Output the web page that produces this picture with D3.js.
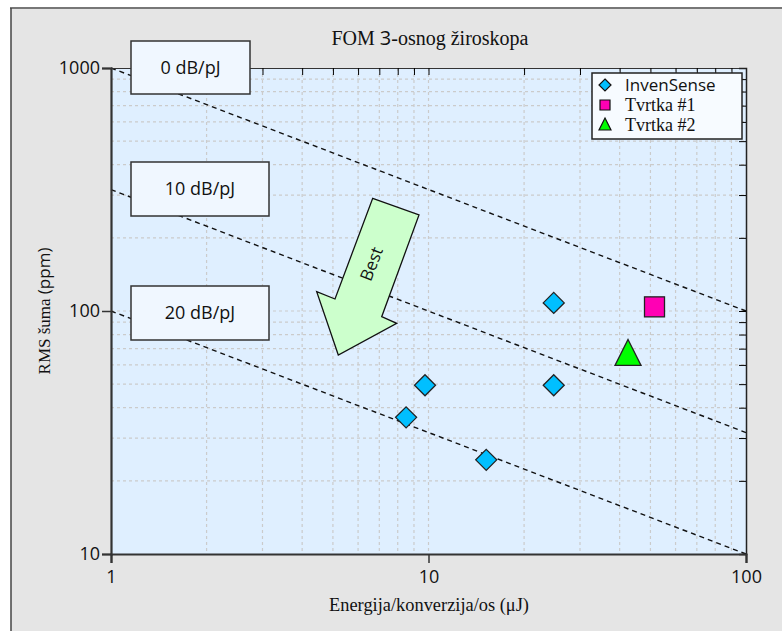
<!DOCTYPE html>
<html>
<head>
<meta charset="utf-8">
<script src="https://cdn.jsdelivr.net/npm/d3@7"></script>
<style>
  body { margin: 0; background: #fff; }
  svg { display: block; }
</style>
</head>
<body>
<svg id="chart"></svg>
<script>
// data
const invenSense = [
  { e: 8.5, n: 36.5 },
  { e: 9.75, n: 49.5 },
  { e: 15.2, n: 24.4 },
  { e: 24.8, n: 108 },
  { e: 24.8, n: 49.5 }
];
const tvrtka1 = [{ e: 51.5, n: 104 }];
const tvrtka2 = [{ e: 42.5, n: 65 }];
const fomLines = [
  { label: '0 dB/pJ', y1: 1000, y100: 100 },
  { label: '10 dB/pJ', y1: 316, y100: 31.6 },
  { label: '20 dB/pJ', y1: 100, y100: 10 }
];
const xTicks = [1, 10, 100];
const yTicks = [10, 100, 1000];
const xMinor = [2, 3, 4, 5, 6, 7, 8, 9, 20, 30, 40, 50, 60, 70, 80, 90];
const yMinor = [20, 30, 40, 50, 60, 70, 80, 90, 200, 300, 400, 500, 600, 700, 800, 900];

const width = 782;
const height = 631;
const m = { left: 111, right: 746, top: 68, bottom: 554 };

const serif = '"Liberation Serif", "DejaVu Serif", serif';
const sans = '"Open Sans", "Noto Sans", sans-serif';

const svg = d3.select('#chart').attr('width', width).attr('height', height);

// frame
svg.append('rect').attr('x', 11).attr('y', 8).attr('width', width - 11).attr('height', height - 8)
  .attr('fill', '#e5e5e5');
svg.append('line').attr('x1', 10).attr('x2', width).attr('y1', 8).attr('y2', 8)
  .attr('stroke', '#777').attr('stroke-width', 2);
svg.append('line').attr('x1', 11).attr('x2', 11).attr('y1', 8).attr('y2', height)
  .attr('stroke', '#444').attr('stroke-width', 1.5);

const x = d3.scaleLog().domain([1, 100]).range([m.left, m.right]);
const y = d3.scaleLog().domain([10, 1000]).range([m.bottom, m.top]);

svg.append('rect').attr('x', m.left).attr('y', m.top)
  .attr('width', m.right - m.left).attr('height', m.bottom - m.top)
  .attr('fill', '#dfefff');

// grid
const grid = svg.append('g').attr('stroke', '#cbcbcb').attr('stroke-width', 1.2)
  .attr('stroke-dasharray', '3,3');
grid.selectAll('.gx').data(xMinor.concat([10])).join('line')
  .attr('x1', d => x(d)).attr('x2', d => x(d)).attr('y1', m.top).attr('y2', m.bottom);
grid.selectAll('.gy').data(yMinor.concat([100])).join('line')
  .attr('y1', d => y(d)).attr('y2', d => y(d)).attr('x1', m.left).attr('x2', m.right);

// dashed FOM lines
const lineFn = d3.line().x(d => x(d[0])).y(d => y(d[1]));
svg.selectAll('.fom').data(fomLines).join('path')
  .attr('d', d => lineFn([[1, d.y1], [100, d.y100]]))
  .attr('fill', 'none').attr('stroke', '#111').attr('stroke-width', 1.4)
  .attr('stroke-dasharray', '5,4');

// top / right inward ticks
const allX = xMinor.concat(xTicks).filter(d => d > 1 && d < 100);
const allY = yMinor.concat(yTicks).filter(d => d > 10 && d < 1000);
svg.append('g').attr('transform', `translate(0,${m.top})`)
  .call(d3.axisTop(x).tickValues(allX).tickSize(-7).tickFormat(''))
  .call(g => g.select('.domain').attr('stroke', '#333'));
svg.append('g').attr('transform', `translate(${m.right},0)`)
  .call(d3.axisRight(y).tickValues(allY).tickSize(-7).tickFormat(''))
  .call(g => g.select('.domain').attr('stroke', '#222').attr('stroke-width', 1.5));

// bottom / left axes
const xAxis = svg.append('g').attr('transform', `translate(0,${m.bottom})`)
  .call(d3.axisBottom(x).tickValues(xTicks).tickSize(9).tickPadding(7).tickFormat(d3.format('d')));
const yAxis = svg.append('g').attr('transform', `translate(${m.left},0)`)
  .call(d3.axisLeft(y).tickValues(yTicks).tickSize(9).tickPadding(2).tickFormat(d3.format('d')));
[xAxis, yAxis].forEach(a => {
  a.select('.domain').attr('stroke', '#333').attr('stroke-width', 2.2);
  a.selectAll('.tick line').attr('stroke', '#333').attr('stroke-width', 1.5);
  a.selectAll('.tick text').style('font-family', sans).style('font-size', '18px').attr('fill', '#111');
});

// label boxes
const boxes = [
  { text: fomLines[0].label, x0: 131, y0: 41, w: 119, h: 53 },
  { text: fomLines[1].label, x0: 131, y0: 162, w: 138, h: 54 },
  { text: fomLines[2].label, x0: 131, y0: 286, w: 138, h: 54 }
];
const bx = svg.selectAll('.lbl').data(boxes).join('g');
bx.append('rect').attr('x', d => d.x0).attr('y', d => d.y0).attr('width', d => d.w).attr('height', d => d.h)
  .attr('fill', '#f0f7ff').attr('stroke', '#333').attr('stroke-width', 1.5);
bx.append('text').attr('x', d => d.x0 + d.w / 2).attr('y', d => d.y0 + d.h / 2 + 6)
  .attr('text-anchor', 'middle').attr('font-family', sans).attr('font-size', 18).attr('fill', '#111')
  .text(d => d.text);

// Best arrow
const arrowPts = [[372.7, 198.3], [419, 215], [381.7, 316.7], [396.7, 323.3], [338.3, 355], [316.7, 291.7], [335, 299]];
svg.append('polygon').attr('points', arrowPts.map(p => p.join(',')).join(' '))
  .attr('fill', '#ccffcc').attr('stroke', '#111').attr('stroke-width', 1.3);
svg.append('text').attr('transform', 'translate(377,266) rotate(-69)')
  .attr('text-anchor', 'middle').attr('font-family', sans).attr('font-size', 17).attr('fill', '#111')
  .text('Best');

// markers
const mk = svg.append('g').attr('stroke', '#222').attr('stroke-width', 1.3);
mk.selectAll('.inv').data(invenSense).join('path')
  .attr('transform', d => `translate(${x(d.e)},${y(d.n)})`)
  .attr('d', 'M0,-10.5L10.5,0L0,10.5L-10.5,0Z').attr('fill', '#00bfff');
mk.selectAll('.t1').data(tvrtka1).join('rect')
  .attr('x', d => x(d.e) - 10).attr('y', d => y(d.n) - 10).attr('width', 20).attr('height', 20)
  .attr('fill', '#ff00b4');
mk.selectAll('.t2').data(tvrtka2).join('path')
  .attr('transform', d => `translate(${x(d.e)},${y(d.n)})`)
  .attr('d', 'M0,-17L13,9L-13,9Z').attr('fill', '#00ff00');

// legend
const lg = svg.append('g').attr('transform', 'translate(592,73)');
lg.append('rect').attr('width', 150).attr('height', 66).attr('fill', '#f7fbff')
  .attr('stroke', '#222').attr('stroke-width', 1.5);
const legendItems = [
  { name: 'InvenSense', font: sans, shape: 'M0,-6L6,0L0,6L-6,0Z', color: '#00bfff' },
  { name: 'Tvrtka #1', font: serif, shape: 'M-5,-5L5,-5L5,5L-5,5Z', color: '#ff00b4' },
  { name: 'Tvrtka #2', font: serif, shape: 'M0,-7L6,5L-6,5Z', color: '#00ff00' }
];
const li = lg.selectAll('.li').data(legendItems).join('g')
  .attr('transform', (d, i) => `translate(0,${12 + i * 20})`);
li.append('path').attr('transform', 'translate(13,0)').attr('d', d => d.shape)
  .attr('fill', d => d.color).attr('stroke', '#111').attr('stroke-width', 1.2);
li.append('text').attr('x', 33).attr('y', 6).attr('font-family', d => d.font)
  .attr('font-size', d => d.font === sans ? 17 : 18).attr('fill', '#111').text(d => d.name);

// titles
const title = svg.append('text').attr('x', 430).attr('y', 45).attr('text-anchor', 'middle')
  .attr('font-family', serif).attr('font-size', 20).attr('fill', '#111');
title.append('tspan').text('FOM ');
title.append('tspan').attr('font-family', sans).text('3');
title.append('tspan').text('-osnog žiroskopa');

svg.append('text').attr('x', 429).attr('y', 611).attr('text-anchor', 'middle')
  .attr('font-family', serif).attr('font-size', 18).attr('fill', '#111')
  .attr('textLength', 200).attr('lengthAdjust', 'spacingAndGlyphs')
  .text('Energija/konverzija/os (μJ)');

const yl = svg.append('text').attr('transform', 'translate(50,311) rotate(-90)')
  .attr('text-anchor', 'middle').attr('font-family', serif).attr('font-size', 17).attr('fill', '#111');
yl.append('tspan').text('RMS šuma ');
yl.append('tspan').attr('font-family', sans).text('(ppm)');
</script>
</body>
</html>
